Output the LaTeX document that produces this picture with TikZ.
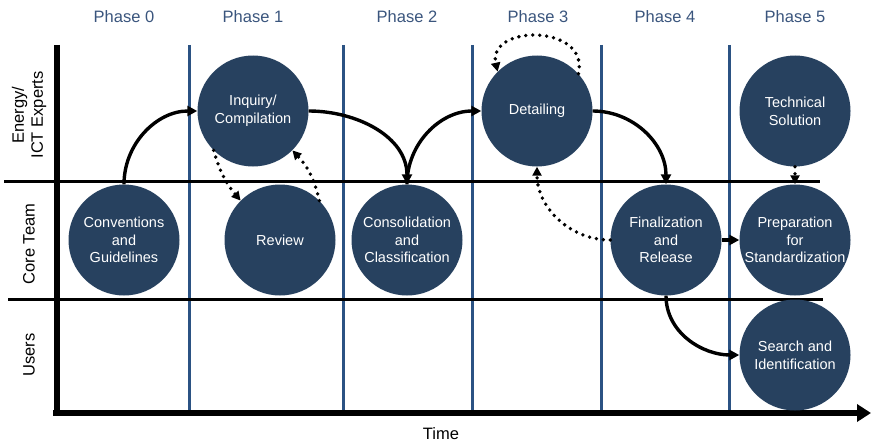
\documentclass[tikz,border=0pt]{standalone}
\usepackage{fontspec}
\setmainfont{Liberation Sans}
\usetikzlibrary{arrows.meta}
\definecolor{navy}{HTML}{27415F}
\definecolor{phaseblue}{HTML}{2B5283}
\definecolor{labelblue}{HTML}{3A557D}
\begin{document}
\begin{tikzpicture}[x=1pt,y=-1pt,
  proc/.style={circle, fill=navy, minimum size=111pt, inner sep=0pt, text=white, align=center, font=\fontsize{14.5}{17.7}\selectfont},
  flow/.style={line width=3.4pt, -{Triangle[length=10pt,width=10pt]}},
  fb/.style={line width=3.8pt, line cap=round, dash pattern=on 0pt off 7pt, -{Triangle[length=9pt,width=9pt]}},
  phasel/.style={phaseblue, line width=3pt},
  lane/.style={line width=3pt},
  hdr/.style={text=labelblue, font=\fontsize{16.5}{19}\selectfont},
  lanelab/.style={rotate=90, align=center, font=\fontsize{16.5}{19}\selectfont}]
\useasboundingbox (0,0) rectangle (872,444);

% phase separators
\foreach \x/\n in {189/a,343/b,472/c,601/d,729/e}{
  \coordinate (pt\n) at (\x,45);
  \coordinate (pb\n) at (\x,413);
  \draw[phasel] (pt\n) -- (pb\n);
}

% lane separators
\coordinate (l1a) at (4,181);
\coordinate (l1b) at (820,181);
\coordinate (l2a) at (8,299);
\coordinate (l2b) at (823,299);
\draw[lane] (l1a) -- (l1b);
\draw[lane] (l2a) -- (l2b);

% axes
\coordinate (vtop) at (57,45);
\coordinate (vbot) at (57,416);
\coordinate (hst) at (53,413);
\coordinate (hend) at (871,413);
\draw[line width=6pt] (vtop) -- (vbot);
\draw[line width=6pt, -{Triangle[length=14pt,width=17pt]}] (hst) -- (hend);

% headers
\node[hdr] (h0) at (124,17) {Phase 0};
\node[hdr] (h1) at (253,17) {Phase 1};
\node[hdr] (h2) at (407,17) {Phase 2};
\node[hdr] (h3) at (538,17) {Phase 3};
\node[hdr] (h4) at (665,17) {Phase 4};
\node[hdr] (h5) at (795,17) {Phase 5};

% lane labels
\node[lanelab] (le) at (29,115) {Energy/\\ICT Experts};
\node[lanelab] (lc) at (29,244) {Core Team};
\node[lanelab] (lu) at (29,355) {Users};
\node[font=\fontsize{16.5}{19}\selectfont] (time) at (441,434) {Time};

% process circles
\node[proc] (conv) at (124,240) {Conventions\\and\\Guidelines};
\node[proc] (inq)  at (253,111) {Inquiry/\\Compilation};
\node[proc] (rev)  at (280,240) {Review};
\node[proc] (cons) at (407,240) {Consolidation\\and\\Classification};
\node[proc] (det)  at (537,111) {Detailing};
\node[proc] (fin)  at (666,240) {Finalization\\and\\Release};
\node[proc] (tech) at (795,111) {Technical\\Solution};
\node[proc] (prep) at (795,240) {Preparation\\for\\Standardization};
\node[proc] (srch) at (795,355) {Search and\\Identification};

% main flow
\draw[flow] (conv.north) to[out=90,in=180] (inq.west);
\draw[flow] (inq.east) to[out=0,in=90] (cons.north);
\draw[flow] (cons.north) to[out=90,in=180] (det.west);
\draw[flow] (det.east) to[out=0,in=90] (fin.north);
\draw[flow] (fin.east) -- (prep.west);
\draw[flow] (fin.south) to[out=-90,in=180] (srch.west);

% feedback loops
\draw[fb] (inq.225) to[bend right=12] (rev.135);
\draw[fb] (rev.45) to[bend right=15] (inq.-45);
\draw[fb] (det.42) .. controls (590,24) and (487,24) .. (det.135);
\draw[fb] (fin.west) to[out=180,in=-90] (det.south);
\draw[fb] (tech.south) -- (prep.north);
\end{tikzpicture}
\end{document}
